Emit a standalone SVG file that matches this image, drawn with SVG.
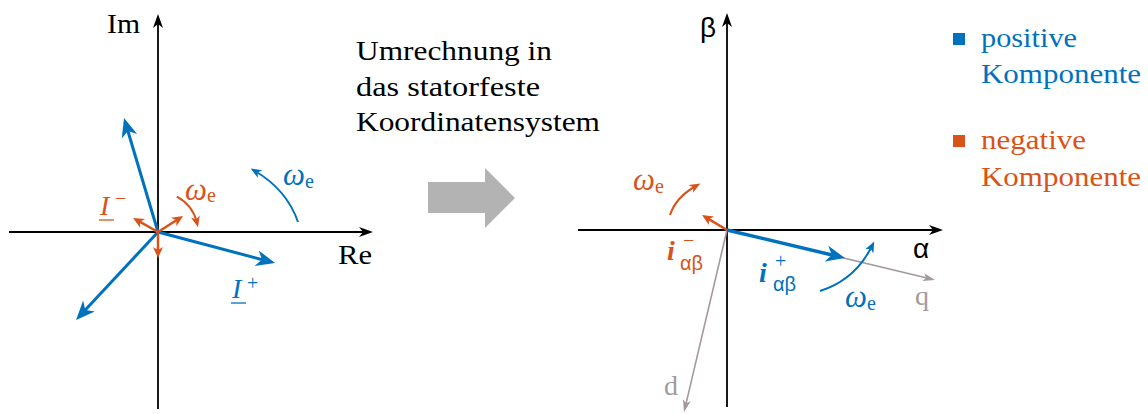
<svg xmlns="http://www.w3.org/2000/svg" width="1148" height="414" viewBox="0 0 1148 414">
<style>
.t{font-family:"Liberation Serif","DejaVu Serif",serif;font-size:28px}
.g{font-family:"Liberation Sans","DejaVu Sans",sans-serif}
.it{font-style:italic}
.sub{font-size:20px}
.om{font-size:31px;font-style:italic}
.k{fill:#000}
.b{fill:#0072bd}
.o{fill:#d95319}
.gr{fill:#a3999b}
.ax{stroke:#000;stroke-width:1.8;fill:none}
.vb{stroke:#0072bd;stroke-width:3;fill:none}
.vo{stroke:#d95319;stroke-width:2.5;fill:none}
.ab{stroke:#0072bd;stroke-width:2;fill:none}
.ao{stroke:#d95319;stroke-width:2;fill:none}
.vg{stroke:#a3999b;stroke-width:1.6;fill:none}
</style>
<defs>
<marker id="mk" markerUnits="userSpaceOnUse" viewBox="-10 -8 20 16" markerWidth="20" markerHeight="16" refX="0" refY="0" orient="auto" overflow="visible"><path d="M6,0 L-8,-5 L-4,0 L-8,5 Z" fill="#000"/></marker>
<marker id="mb" markerUnits="userSpaceOnUse" viewBox="-12 -9 24 18" markerWidth="24" markerHeight="18" refX="0" refY="0" orient="auto" overflow="visible"><path d="M8,0 L-11,-8 L-5.5,0 L-11,8 Z" fill="#0072bd"/></marker>
<marker id="mo" markerUnits="userSpaceOnUse" viewBox="-8 -6 16 12" markerWidth="16" markerHeight="12" refX="0" refY="0" orient="auto" overflow="visible"><path d="M5,0 L-6,-5 L-3,0 L-6,5 Z" fill="#d95319"/></marker>
<marker id="mab" markerUnits="userSpaceOnUse" viewBox="-8 -6 16 12" markerWidth="16" markerHeight="12" refX="0" refY="0" orient="auto" overflow="visible"><path d="M5,0 L-6,-4.5 L-3,0 L-6,4.5 Z" fill="#0072bd"/></marker>
<marker id="mao" markerUnits="userSpaceOnUse" viewBox="-8 -6 16 12" markerWidth="16" markerHeight="12" refX="0" refY="0" orient="auto" overflow="visible"><path d="M5,0 L-6,-4.5 L-3,0 L-6,4.5 Z" fill="#d95319"/></marker>
<marker id="mg" markerUnits="userSpaceOnUse" viewBox="-8 -6 16 12" markerWidth="16" markerHeight="12" refX="0" refY="0" orient="auto" overflow="visible"><path d="M5,0 L-7,-4 L-4,0 L-7,4 Z" fill="#a3999b"/></marker>
</defs>

<g id="connectors">
<!-- left axes -->
<line class="ax" x1="158" y1="409" x2="158" y2="20" marker-end="url(#mk)"/>
<line class="ax" x1="9" y1="232" x2="367" y2="232" marker-end="url(#mk)"/>
<!-- left blue vectors -->
<line class="vb" x1="158" y1="232" x2="126.3" y2="125.7" marker-end="url(#mb)"/>
<line class="vb" x1="158" y1="232" x2="81.5" y2="314.1" marker-end="url(#mb)"/>
<line class="vb" x1="158" y1="232" x2="267.3" y2="261" marker-end="url(#mb)"/>
<!-- left orange vectors -->
<line class="vo" x1="158" y1="232" x2="137.4" y2="220.4" marker-end="url(#mo)"/>
<line class="vo" x1="158" y1="232" x2="178.8" y2="218.7" marker-end="url(#mo)"/>
<line class="vo" x1="158" y1="232" x2="158" y2="253" marker-end="url(#mo)"/>
<!-- left arcs -->
<path class="ao" d="M176.8,196.7 A40,40 0 0 1 196.8,222.3" marker-end="url(#mao)"/>
<path class="ab" d="M298,222 Q287,190 255,171" marker-end="url(#mab)"/>

<!-- right axes -->
<line class="ax" x1="727" y1="407" x2="727" y2="19" marker-end="url(#mk)"/>
<line class="ax" x1="578" y1="230" x2="937" y2="230" marker-end="url(#mk)"/>
<!-- dq frame -->
<line class="vg" x1="727" y1="230" x2="930.1" y2="278.8" marker-end="url(#mg)"/>
<line class="vg" x1="727" y1="230" x2="685.2" y2="407.1" marker-end="url(#mg)"/>
<!-- right vectors -->
<line class="vb" style="stroke-width:3.5" x1="727" y1="230" x2="837.2" y2="256.2" marker-end="url(#mb)"/>
<line class="vo" x1="727" y1="230" x2="706.3" y2="217.6" marker-end="url(#mo)"/>
<!-- right arcs -->
<path class="ao" d="M670,215 Q676,197 696,186" marker-end="url(#mao)"/>
<path class="ab" d="M820,291 Q855,280 872,246" marker-end="url(#mab)"/>
</g>

<g id="left-labels">
<text class="t k" x="107" y="33" textLength="33" lengthAdjust="spacingAndGlyphs">Im</text>
<text class="t k" x="338" y="264" textLength="34" lengthAdjust="spacingAndGlyphs">Re</text>
<text class="t o it" x="100" y="215" font-size="29">I</text>
<line x1="99" y1="220" x2="114" y2="220" stroke="#d95319" stroke-width="1.3"/>
<text class="t o sub" x="115" y="205">−</text>
<text class="t b it" x="232" y="298" font-size="29">I</text>
<line x1="231" y1="303" x2="246" y2="303" stroke="#0072bd" stroke-width="1.3"/>
<text class="t b sub" x="247" y="290">+</text>
<text class="t o" x="185" y="200"><tspan class="om">ω</tspan><tspan class="sub" dy="2">e</tspan></text>
<text class="t b" x="283" y="185"><tspan class="om">ω</tspan><tspan class="sub" dy="3">e</tspan></text>
</g>

<g id="transform-note">
<text class="t k" x="356" y="60" textLength="196" lengthAdjust="spacingAndGlyphs">Umrechnung in</text>
<text class="t k" x="356" y="95.5" textLength="184" lengthAdjust="spacingAndGlyphs">das statorfeste</text>
<text class="t k" x="356" y="131" textLength="244" lengthAdjust="spacingAndGlyphs">Koordinatensystem</text>
<polygon points="428,182 485,182 485,168 515,198 485,228 485,213 428,213" fill="#b3b3b3"/>
</g>

<g id="right-labels">
<text class="t g k" x="700" y="37">β</text>
<text class="t g k" x="913" y="258">α</text>
<text class="t gr" x="915" y="305">q</text>
<text class="t gr" x="664" y="395">d</text>
<text class="t o" x="633" y="190"><tspan class="om">ω</tspan><tspan class="sub" dy="3">e</tspan></text>
<text class="t b" x="845" y="307"><tspan class="om">ω</tspan><tspan class="sub" dy="3">e</tspan></text>
<text class="t o it" x="667" y="260" font-weight="bold">i</text>
<text class="t o sub" x="683" y="247">−</text>
<text class="t g o sub" x="680" y="270">αβ</text>
<text class="t b it" x="759" y="282" font-weight="bold">i</text>
<text class="t b sub" x="775" y="268">+</text>
<text class="t g b sub" x="773" y="291">αβ</text>
</g>

<g id="legend">
<rect x="953" y="33" width="12" height="12" fill="#0072bd"/>
<text class="t b" x="981" y="47" textLength="96" lengthAdjust="spacingAndGlyphs">positive</text>
<text class="t b" x="981" y="83" textLength="160" lengthAdjust="spacingAndGlyphs">Komponente</text>
<rect x="953" y="135" width="12" height="12" fill="#d95319"/>
<text class="t o" x="981" y="149" textLength="105" lengthAdjust="spacingAndGlyphs">negative</text>
<text class="t o" x="981" y="186" textLength="160" lengthAdjust="spacingAndGlyphs">Komponente</text>
</g>
</svg>
